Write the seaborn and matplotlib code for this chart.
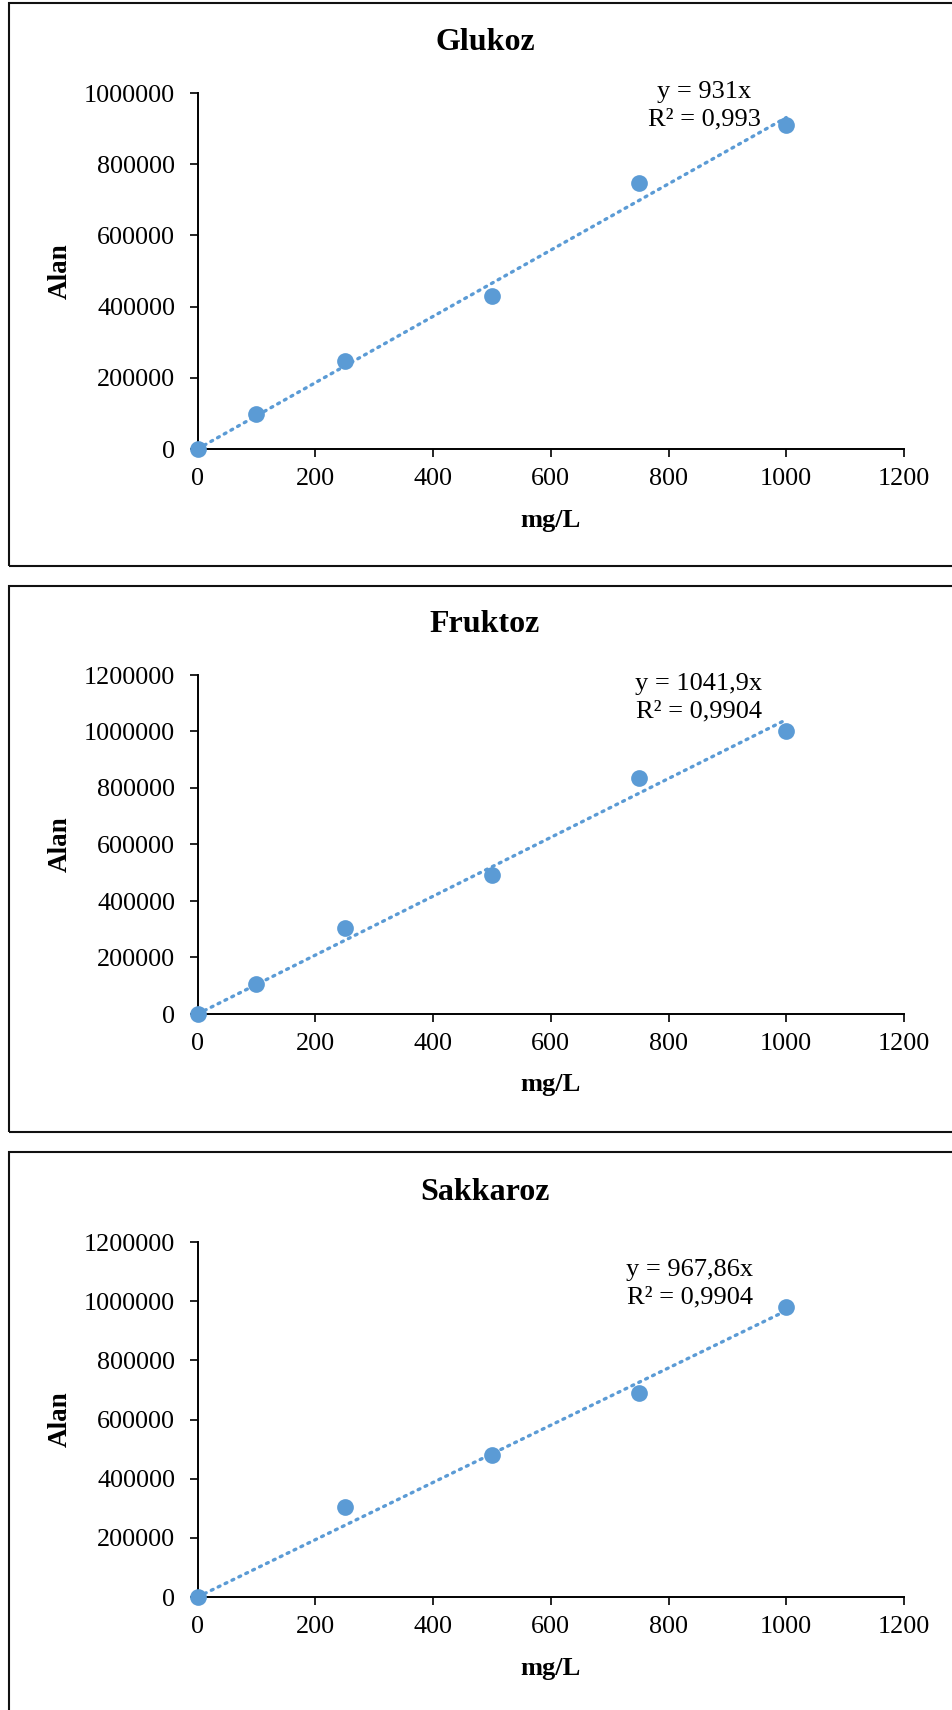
import numpy as np
import pandas as pd
import matplotlib
matplotlib.use("Agg")
import matplotlib.pyplot as plt
from matplotlib.patches import Rectangle
import seaborn as sns

# ---- data ----
titles = ["Glukoz", "Fruktoz", "Sakkaroz"]
glukoz_x = [0, 100, 250, 500, 750, 1000]
glukoz_y = [0, 98000, 247000, 430000, 748000, 910000]
fruktoz_x = [0, 100, 250, 500, 750, 1000]
fruktoz_y = [0, 105000, 305000, 491000, 837000, 1002000]
sakkaroz_x = [0, 250, 500, 750, 1000]
sakkaroz_y = [0, 305000, 480000, 690000, 981000]
slopes = [931, 1041.9, 967.86]
equations = ["y = 931x\nR² = 0,993", "y = 1041,9x\nR² = 0,9904", "y = 967,86x\nR² = 0,9904"]
y_max = [1000000, 1200000, 1200000]
y_step = 200000
x_ticks = [0, 200, 400, 600, 800, 1000, 1200]
x_label = "mg/L"
y_label = "Alan"

series = [(glukoz_x, glukoz_y), (fruktoz_x, fruktoz_y), (sakkaroz_x, sakkaroz_y)]

sns.set_theme(style="ticks")
plt.rcParams["font.family"] = ["Liberation Serif", "DejaVu Serif"]
plt.rcParams["text.color"] = "black"

W, H = 953, 1710
fig = plt.figure(figsize=(W / 100, H / 100), dpi=100)

def fx(px):
    return px / W

def fy(py):
    return 1 - py / H

blue = "#5B9BD5"

# layout in pixels: (y of zero, y of top)
axes_px = [(449, 93), (1014, 675), (1597, 1242)]
x0_px, x1_px = 197.5, 904
box_px = [(3, 566), (586, 1132), (1152, 1730)]
title_y = [43, 625, 1192]
xlabel_y = [521, 1084, 1668]
eq_pos = [(704, 106), (699, 698), (690, 1284)]

for i in range(3):
    yb, yt = axes_px[i]
    ax = fig.add_axes([fx(x0_px), fy(yb), fx(x1_px - x0_px), (yb - yt) / H])
    xs, ys = series[i]
    df = pd.DataFrame({"x": xs, "y": ys})
    # trendline through origin
    xl = np.array([0, 1000])
    ax.plot(xl, slopes[i] * xl, color=blue, lw=2.4, linestyle=(0, (0.6, 1.7)),
            dash_capstyle="round", zorder=2)
    sns.scatterplot(data=df, x="x", y="y", ax=ax, color=blue, s=145,
                    edgecolor=blue, linewidth=0, zorder=3, clip_on=False)
    ax.set_xlim(0, 1200)
    ax.set_ylim(0, y_max[i])
    ax.set_xticks(x_ticks)
    ax.set_yticks(np.arange(0, y_max[i] + 1, y_step))
    ax.set_yticklabels([str(int(v)) for v in np.arange(0, y_max[i] + 1, y_step)])
    ax.set_xticklabels([str(v) for v in x_ticks])
    ax.tick_params(axis="both", direction="out", length=6, width=1.2,
                   color="black", labelsize=18.8, labelcolor="black")
    ax.tick_params(axis="y", pad=10)
    ax.tick_params(axis="x", pad=8)
    for sp in ["top", "right"]:
        ax.spines[sp].set_visible(False)
    for sp in ["left", "bottom"]:
        ax.spines[sp].set_color("black")
        ax.spines[sp].set_linewidth(1.4)
    ax.set_xlabel("")
    ax.set_ylabel("")
    ax.set_facecolor("none")
    ax.grid(False)

    fig.text(fx(485), fy(title_y[i]), titles[i], ha="center", va="center",
             fontsize=23, fontweight="bold", color="black")
    fig.text(fx(551), fy(xlabel_y[i]), x_label, ha="center", va="center",
             fontsize=19, fontweight="bold", color="black")
    fig.text(fx(60), fy((yb + yt) / 2), y_label, ha="center", va="center",
             rotation=90, fontsize=19.5, fontweight="bold", color="black")
    ex, ey = eq_pos[i]
    fig.text(fx(ex), fy(ey), equations[i], ha="center", va="center",
             multialignment="center", fontsize=19, linespacing=1.3,
             color="black")

    bt, bb = box_px[i]
    fig.patches.append(Rectangle((fx(9), fy(bb)), fx(1000), (bb - bt) / H,
                                 transform=fig.transFigure, fill=False,
                                 edgecolor="#111111", linewidth=1.5))

fig.savefig("out.png", dpi=100)
